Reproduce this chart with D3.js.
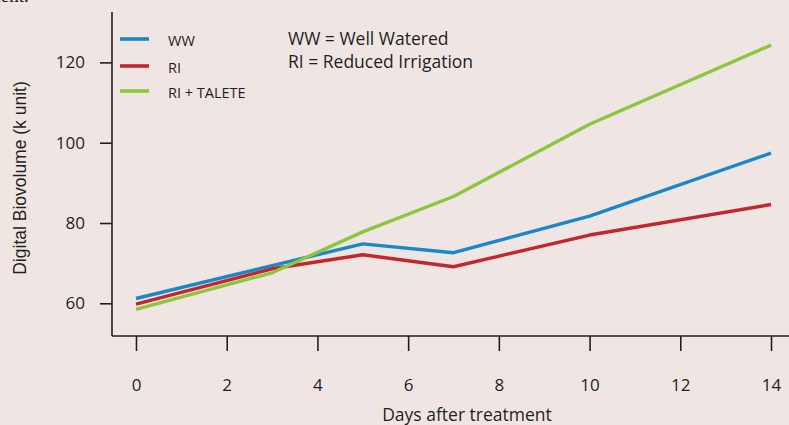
<!DOCTYPE html>
<html>
<head>
<meta charset="utf-8">
<script src="https://cdn.jsdelivr.net/npm/d3@7"></script>
<style>
  html, body { margin: 0; padding: 0; background: #efe6e4; }
  svg { display: block; }
</style>
</head>
<body>
<svg id="chart" width="789" height="425"></svg>
<script>
// Days after treatment at which biovolume was measured
const days = [0, 3, 5, 7, 10, 14];

// Digital biovolume (k unit) per treatment
const wwValues = [61.2, 69.4, 74.8, 72.6, 81.7, 97.4];
const riValues = [59.8, 68.6, 72.1, 69.1, 77.0, 84.6];
const taleteValues = [58.5, 67.6, 77.8, 86.6, 104.6, 124.3];

const seriesNames = ["WW", "RI", "RI + TALETE"];
const seriesColors = ["#1b87c7", "#c4262e", "#8cc63f"];

const xTicks = [0, 2, 4, 6, 8, 10, 12, 14];
const yTicks = [60, 80, 100, 120];

const series = [wwValues, riValues, taleteValues].map((vals, i) => ({
  name: seriesNames[i],
  color: seriesColors[i],
  points: days.map((d, j) => ({ day: d, value: vals[j] }))
}));

const svg = d3.select("#chart");
const ink = "#231f20";
const sans = "'Open Sans', 'Noto Sans', sans-serif";

// Scales
const x = d3.scaleLinear().domain([0, 14]).range([136, 771]);
const y = d3.scaleLinear().domain([60, 120]).range([303.3, 62.4]);

// Fragment of the preceding paragraph, clipped by the top edge
svg.append("text")
  .attr("x", -14).attr("y", 2)
  .attr("font-family", "'Liberation Serif', 'DejaVu Serif', serif")
  .attr("font-size", 19)
  .attr("fill", ink)
  .text("ment.");

// Axis lines
const axisLeft = 112, axisBottom = 336;
svg.append("line")
  .attr("x1", axisLeft).attr("x2", axisLeft)
  .attr("y1", 12).attr("y2", axisBottom)
  .attr("stroke", ink).attr("stroke-width", 1.6);
svg.append("line")
  .attr("x1", axisLeft).attr("x2", 789)
  .attr("y1", axisBottom).attr("y2", axisBottom)
  .attr("stroke", ink).attr("stroke-width", 1.6);

// Y axis ticks and labels
const yAxis = d3.axisLeft(y).tickValues(yTicks).tickSize(12).tickPadding(15);
const gy = svg.append("g").attr("transform", `translate(${axisLeft},0)`).call(yAxis);
gy.select(".domain").remove();
gy.selectAll(".tick line").attr("stroke", ink).attr("stroke-width", 1.6);
gy.selectAll(".tick text")
  .attr("fill", ink)
  .attr("font-family", sans)
  .attr("font-size", 17);

// X axis ticks and labels
const xAxis = d3.axisBottom(x).tickValues(xTicks).tickSize(15).tickPadding(28);
const gx = svg.append("g").attr("transform", `translate(0,${axisBottom})`).call(xAxis);
gx.select(".domain").remove();
gx.selectAll(".tick line").attr("stroke", ink).attr("stroke-width", 1.6);
gx.selectAll(".tick text")
  .attr("fill", ink)
  .attr("font-family", sans)
  .attr("font-size", 17);

// Axis titles
svg.append("text")
  .attr("x", 467).attr("y", 421)
  .attr("text-anchor", "middle")
  .attr("font-family", sans)
  .attr("font-size", 17.5)
  .attr("fill", ink)
  .text("Days after treatment");

svg.append("text")
  .attr("transform", "translate(26,178) rotate(-90)")
  .attr("text-anchor", "middle")
  .attr("font-family", "'Liberation Sans', Arial, sans-serif")
  .attr("font-size", 17.5)
  .attr("fill", ink)
  .text("Digital Biovolume (k unit)");

// Series lines
const line = d3.line().x(d => x(d.day)).y(d => y(d.value));
svg.append("g").selectAll("path")
  .data(series)
  .join("path")
  .attr("d", d => line(d.points))
  .attr("fill", "none")
  .attr("stroke", d => d.color)
  .attr("stroke-width", 3.4)
  .attr("stroke-linejoin", "round");

// Legend
const legend = svg.append("g");
const legendY = [39, 66, 91];
series.forEach((s, i) => {
  legend.append("line")
    .attr("x1", 120).attr("x2", 149)
    .attr("y1", legendY[i]).attr("y2", legendY[i])
    .attr("stroke", s.color).attr("stroke-width", 3.6);
  legend.append("text")
    .attr("x", 168).attr("y", legendY[i] + 6.5)
    .attr("font-family", sans)
    .attr("font-size", 14.5)
    .attr("fill", ink)
    .text(s.name);
});

// Abbreviation key
const notes = ["WW = Well Watered", "RI = Reduced Irrigation"];
svg.append("g").selectAll("text")
  .data(notes)
  .join("text")
  .attr("x", 288)
  .attr("y", (d, i) => 45 + i * 23)
  .attr("font-family", sans)
  .attr("font-size", 17.5)
  .attr("fill", ink)
  .text(d => d);
</script>
</body>
</html>
